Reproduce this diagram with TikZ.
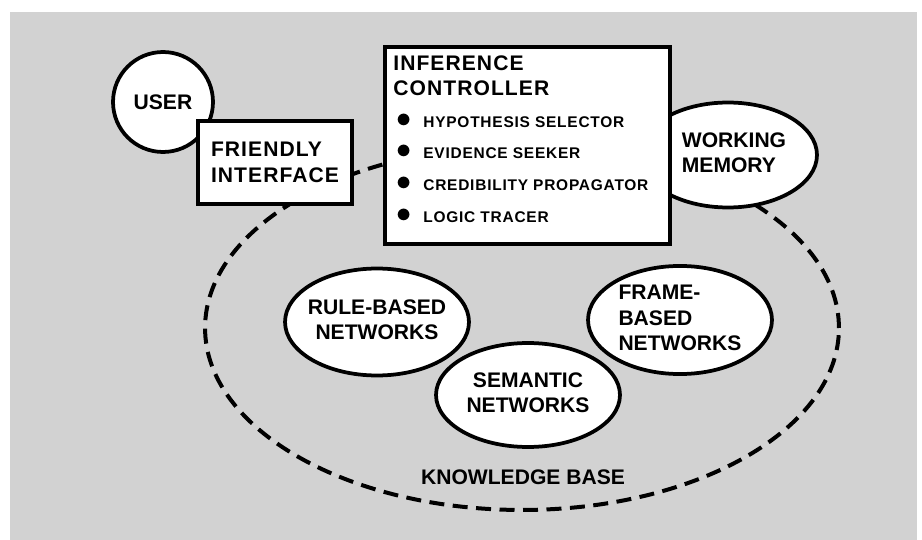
\documentclass[tikz,border=0pt]{standalone}
\usepackage{fontspec}
\setmainfont{Liberation Sans}
\newfontfamily\spacedsans{Liberation Sans}[LetterSpace=5]
\usetikzlibrary{shapes.geometric}
\definecolor{paper}{RGB}{210,210,210}
\newcommand{\stacklabel}[2][c]{\makebox[0pt]{\begin{tabular}{@{}#1@{}}#2\end{tabular}}}
\newcommand{\bulletitem}[1]{\makebox[0.6cm][l]{\hspace{0.06cm}\smash{\fontsize{16}{16}\selectfont$\bullet$}}{\fontsize{8.8}{10}\selectfont #1}}
\begin{document}
\begin{tikzpicture}[x=0.02cm,y=-0.02cm,
    every node/.style={font=\fontsize{12}{14.5}\selectfont\bfseries},
    block/.style={draw,line width=0.075cm,fill=white,inner sep=0pt},
    blob/.style={block,ellipse},
    kbline/.style={draw,ellipse,line width=0.08cm,dash pattern=on 0.3cm off 0.17cm}]
    %% Background
    \useasboundingbox (0,0) rectangle (922,540);
    \fill[paper] (10,12) rectangle (917,540);
    %% Knowledge base
    \node[kbline,minimum width=12.68cm,minimum height=7.28cm] (kb) at (522,328) {};
    \node (kblabel) at (523,477) {KNOWLEDGE BASE};
    %% Networks
    \node[blob,minimum width=3.68cm,minimum height=2.14cm] (rule) at (377,322) {\stacklabel{RULE-BASED\\NETWORKS}};
    \node[blob,minimum width=3.68cm,minimum height=2.08cm] (semantic) at (528,395) {\stacklabel{SEMANTIC\\NETWORKS}};
    \node[blob,minimum width=3.68cm,minimum height=2.12cm] (frame) at (680,320) {\stacklabel[l]{FRAME-\\BASED\\NETWORKS}};
    %% User side
    \node[blob,circle,minimum size=2cm] (user) at (163,102) {USER};
    \node[block,minimum width=3.08cm,minimum height=1.66cm,align=left,font=\fontsize{12}{14.5}\spacedsans\bfseries] (interface) at (275,162.5) {FRIENDLY\\INTERFACE};
    %% Working memory and controller
    \node[blob,minimum width=3.56cm,minimum height=2.1cm] (memory) at (728,155) {\hspace{0.24cm}\stacklabel[l]{WORKING\\MEMORY}};
    \node[block,anchor=north west,minimum width=5.7cm,minimum height=3.94cm] (ctrl) at (383,45) {};
    \node[anchor=north west,inner sep=0pt,align=left,font=\fontsize{12}{14.5}\spacedsans\bfseries] (ctrltext) at (393,55) {INFERENCE\\CONTROLLER\\[3.5pt]
        \bulletitem{HYPOTHESIS SELECTOR}\\[3.5pt]
        \bulletitem{EVIDENCE SEEKER}\\[3.5pt]
        \bulletitem{CREDIBILITY PROPAGATOR}\\[3.5pt]
        \bulletitem{LOGIC TRACER}};
\end{tikzpicture}
\end{document}
